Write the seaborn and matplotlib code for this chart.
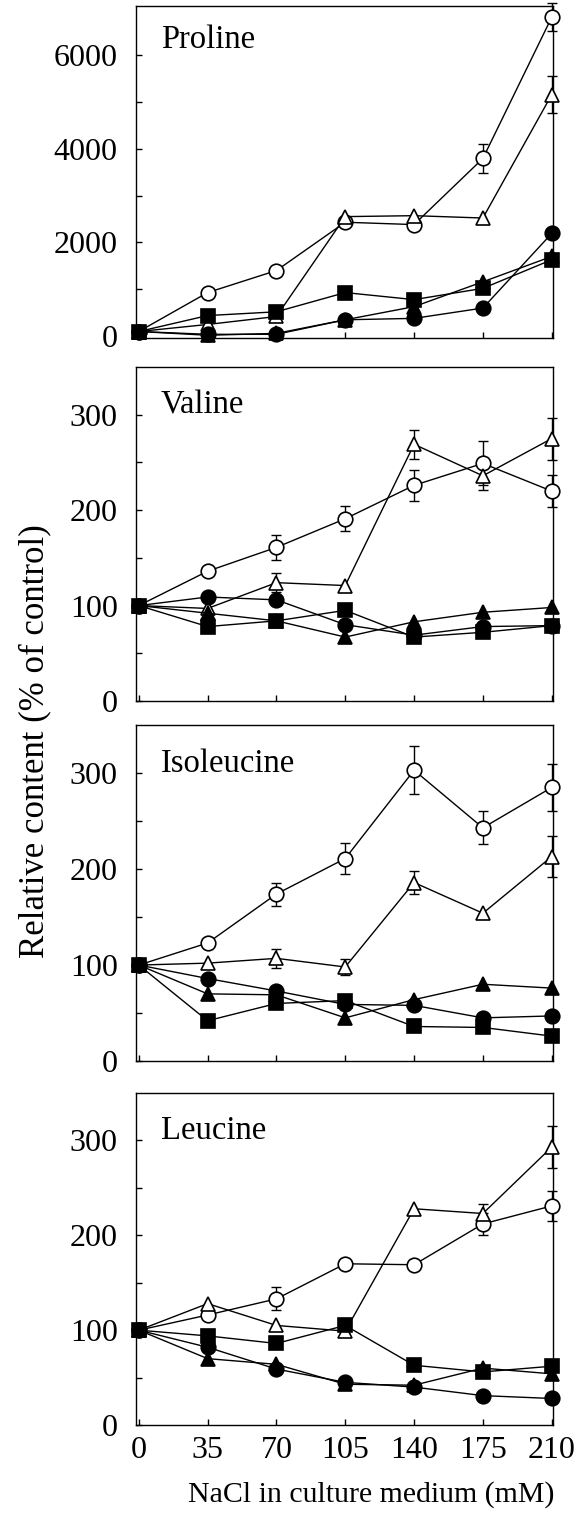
#!/usr/bin/env python3

# import libraries
import numpy as np
import matplotlib
matplotlib.use('Agg')
import matplotlib.pyplot as plt
import pandas as pd
import seaborn as sns

# NaCl levels (mM)
nacl = [0, 35, 70, 105, 140, 175, 210]

# series order: open circle, open triangle, filled circle, filled square, filled triangle
series_names = ['open circle', 'open triangle', 'filled circle', 'filled square', 'filled triangle']

proline = [
    [100, 930, 1400, 2430, 2380, 3790, 6800],
    [100, 250, 420, 2550, 2570, 2520, 5150],
    [100, 40, 40, 350, 380, 600, 2190],
    [100, 440, 520, 930, 780, 1020, 1630],
    [100, 20, 60, 350, 630, 1160, 1700],
]
valine = [
    [100, 136, 161, 191, 226, 249, 220],
    [100, 97, 124, 121, 269, 236, 275],
    [100, 109, 106, 80, 69, 78, 79],
    [100, 78, 84, 95, 67, 72, 79],
    [100, 92, 84, 67, 83, 93, 98],
]
isoleucine = [
    [100, 123, 174, 211, 303, 243, 285],
    [100, 102, 107, 98, 186, 154, 213],
    [100, 86, 73, 59, 58, 45, 47],
    [100, 42, 60, 63, 36, 35, 26],
    [100, 70, 69, 45, 64, 80, 76],
]
leucine = [
    [100, 116, 133, 170, 169, 212, 231],
    [100, 128, 105, 99, 228, 223, 293],
    [100, 82, 59, 45, 40, 31, 28],
    [100, 94, 86, 105, 63, 56, 62],
    [100, 70, 64, 43, 42, 60, 54],
]

# error bars (open circle, open triangle); 0 = none drawn
proline_err = [[0, 0, 0, 0, 0, 300, 300], [0, 0, 0, 0, 0, 0, 400]]
valine_err = [[0, 0, 13, 13, 16, 23, 17], [0, 0, 10, 0, 15, 15, 22]]
isoleucine_err = [[0, 0, 12, 16, 25, 17, 24], [0, 0, 10, 8, 12, 0, 21]]
leucine_err = [[0, 0, 12, 0, 0, 12, 16], [0, 0, 0, 5, 0, 10, 22]]

panel_names = ['Proline', 'Valine', 'Isoleucine', 'Leucine']
panel_data = [proline, valine, isoleucine, leucine]
panel_err = [proline_err, valine_err, isoleucine_err, leucine_err]

sns.set_theme(style='ticks')
plt.rcParams['font.family'] = ['Liberation Serif', 'DejaVu Serif']
plt.rcParams['axes.linewidth'] = 1.0
plt.rcParams['text.color'] = 'black'
plt.rcParams['xtick.color'] = 'black'
plt.rcParams['ytick.color'] = 'black'
plt.rcParams['axes.labelcolor'] = 'black'

# marker styles per series
marker_style = {
    'open circle': ('o', 'white'),
    'open triangle': ('^', 'white'),
    'filled circle': ('o', 'black'),
    'filled square': ('s', 'black'),
    'filled triangle': ('^', 'black'),
}

fig = plt.figure(figsize=(5.83, 15.16), dpi=100)

# axes boxes in figure fractions (left, bottom, width, height)
boxes = [
    (0.233, 0.7770, 0.715, 0.2190),
    (0.233, 0.5376, 0.715, 0.2203),
    (0.233, 0.3001, 0.715, 0.2216),
    (0.233, 0.0600, 0.715, 0.2190),
]

for i, name in enumerate(panel_names):
    ax = fig.add_axes(boxes[i])
    rows = []
    for s, vals in zip(series_names, panel_data[i]):
        for x, v in zip(nacl, vals):
            rows.append({'NaCl': x, 'value': v, 'series': s})
    df = pd.DataFrame(rows)

    # error bars first so markers sit on top
    for k, s in enumerate(['open circle', 'open triangle']):
        vals = np.array(panel_data[i][series_names.index(s)], dtype=float)
        err = np.array(panel_err[i][k], dtype=float)
        keep = err > 0
        ax.errorbar(np.array(nacl)[keep], vals[keep], yerr=err[keep], fmt='none',
                    ecolor='black', elinewidth=1.0, capsize=3.5, capthick=1.0,
                    clip_on=False, zorder=2)

    for s in series_names:
        mk, fc = marker_style[s]
        sns.lineplot(data=df[df['series'] == s], x='NaCl', y='value', ax=ax,
                     color='black', linewidth=1.0, marker=mk, markersize=10.5,
                     mfc=fc, mec='black', mew=1.2, clip_on=False, zorder=3)

    ax.set_xlim(-1.5, 210.5)
    if name == 'Proline':
        ax.set_ylim(-40, 7040)
        ax.set_yticks([0, 2000, 4000, 6000])
        ax.set_yticks([1000, 3000, 5000], minor=True)
        ty = 0.90
    else:
        ax.set_ylim(0, 350)
        ax.set_yticks([0, 100, 200, 300])
        ax.set_yticks([50, 150, 250], minor=True)
        ty = 0.885
    ax.set_xticks(nacl)
    ax.tick_params(which='both', direction='in', length=4, width=1.0,
                   top=False, right=False, color='black', labelcolor='black')
    ax.tick_params(axis='y', labelsize=23, pad=13)
    ax.tick_params(axis='x', labelsize=23, pad=8)
    if i < 3:
        ax.set_xticklabels([])
    for sp in ax.spines.values():
        sp.set_color('black')
        sp.set_linewidth(1.0)
    ax.set_xlabel('')
    ax.set_ylabel('')
    ax.text(0.06, ty, name, transform=ax.transAxes, fontsize=23.5,
            ha='left', va='center', color='black')

fig.text(0.06, 0.511, 'Relative content (% of control)', rotation=90,
         fontsize=25, ha='center', va='center', color='black')
fig.text(0.637, 0.0139, 'NaCl in culture medium (mM)', fontsize=21.5,
         ha='center', va='center', color='black')

fig.savefig('out.png', dpi=100)
